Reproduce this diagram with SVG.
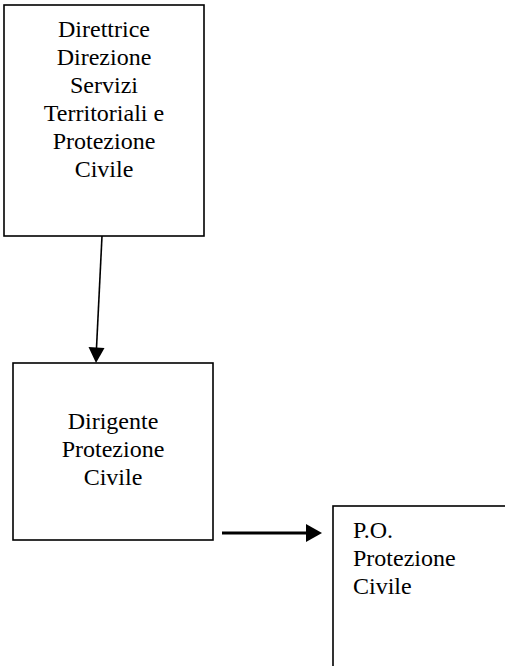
<svg xmlns="http://www.w3.org/2000/svg" width="505" height="666" viewBox="0 0 505 666">
<style>
.box{fill:#fff;stroke:#000;stroke-width:1.6}
.t{font-family:"Liberation Serif","Times New Roman",Times,serif;font-size:24px;fill:#000}
.c{text-anchor:middle}
</style>
<rect width="505" height="666" fill="#fff"/>
<g id="connectors">
<line x1="102" y1="236" x2="96.5" y2="348" stroke="#000" stroke-width="1.6"/>
<polygon points="88.5,347 104.5,348 96,363" fill="#000"/>
<line x1="222" y1="533" x2="308" y2="533" stroke="#000" stroke-width="3"/>
<polygon points="306,524 306,542 322,533" fill="#000"/>
</g>
<g id="direttrice">
<rect class="box" x="4" y="5" width="200" height="231"/>
<text class="t c" x="104" y="37">Direttrice</text>
<text class="t c" x="104" y="65">Direzione</text>
<text class="t c" x="104" y="93">Servizi</text>
<text class="t c" x="104" y="121">Territoriali e</text>
<text class="t c" x="104" y="149">Protezione</text>
<text class="t c" x="104" y="177">Civile</text>
</g>
<g id="dirigente">
<rect class="box" x="13" y="363" width="200" height="177"/>
<text class="t c" x="113" y="429">Dirigente</text>
<text class="t c" x="113" y="457">Protezione</text>
<text class="t c" x="113" y="485">Civile</text>
</g>
<g id="po">
<rect class="box" x="333" y="506" width="180" height="170"/>
<text class="t" x="353" y="538">P.O.</text>
<text class="t" x="353" y="566">Protezione</text>
<text class="t" x="353" y="594">Civile</text>
</g>
</svg>
